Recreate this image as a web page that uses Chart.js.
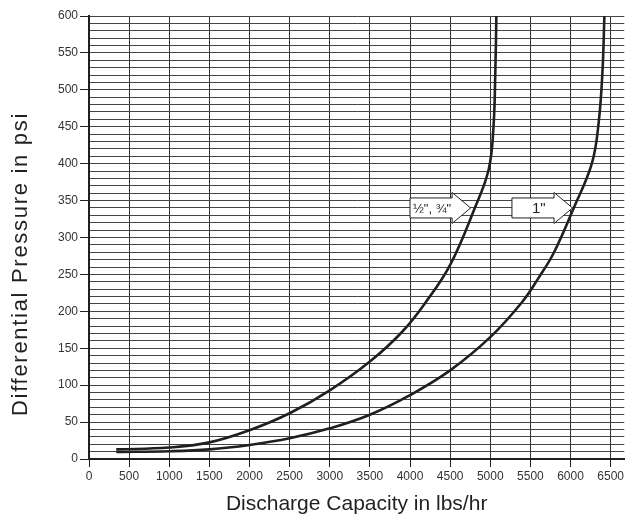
<!DOCTYPE html>
<html>
<head>
<meta charset="utf-8">
<script src="https://cdn.jsdelivr.net/npm/chart.js@4.4.0/dist/chart.umd.min.js"></script>
<style>
  body { margin: 0; background: #fff; }
  canvas { display: block; }
</style>
</head>
<body>
<canvas id="myCanvas" width="626" height="514"></canvas>
<script>
// capacity (lbs/hr) vs differential pressure (psi)
var smallX = [340, 1000, 1500, 2000, 2500, 3000, 3500, 3900, 4200, 4500, 4800, 4980, 5040, 5062, 5076];
var smallY = [13, 15.5, 22.5, 39, 62, 93, 132, 172, 213, 263, 338, 392, 450, 520, 600];
var oneX = [340, 1000, 1500, 2000, 2500, 3000, 3500, 4000, 4500, 5000, 5400, 5600, 5790, 6040, 6265, 6350, 6398, 6422];
var oneY = [9.5, 10.5, 13, 19, 28, 41.5, 60, 86.5, 120, 165, 213, 245, 279, 340, 400, 455, 525, 600];

var xTicks = [0, 500, 1000, 1500, 2000, 2500, 3000, 3500, 4000, 4500, 5000, 5500, 6000, 6500];

// arrow labels: text, box start x, arrow tip x, y (data units)
var arrowText = ['\u00BD", \u00BE"', '1"'];
var arrowFromX = [4000, 5270];
var arrowTipX = [4755, 6025];
var arrowAtY = [340, 340];

function pts(xs, ys) {
	var out = [];
	for (var i = 0; i < xs.length; i++) out.push({x: xs[i], y: ys[i]});
	return out;
}

var arrows = {
	id: 'arrows',
	afterDatasetsDraw: function(chart) {
		var ctx = chart.ctx, sx = chart.scales.x, sy = chart.scales.y;
		for (var i = 0; i < arrowText.length; i++) {
			var l = sx.getPixelForValue(arrowFromX[i]);
			var t = sx.getPixelForValue(arrowTipX[i]);
			var y = sy.getPixelForValue(arrowAtY[i]);
			var h = t - 18.5;
			ctx.save();
			ctx.beginPath();
			ctx.moveTo(l, y - 10);
			ctx.lineTo(h, y - 10);
			ctx.lineTo(h, y - 15.5);
			ctx.lineTo(t, y);
			ctx.lineTo(h, y + 15.5);
			ctx.lineTo(h, y + 10);
			ctx.lineTo(l, y + 10);
			ctx.closePath();
			ctx.fillStyle = '#fff';
			ctx.fill();
			ctx.strokeStyle = '#231f20';
			ctx.lineWidth = 1;
			ctx.stroke();
			ctx.fillStyle = '#231f20';
			ctx.textBaseline = 'middle';
			ctx.textAlign = 'left';
			if (i == 0) {
				ctx.font = '13px "Liberation Sans", Arial, sans-serif';
				ctx.fillText(arrowText[i], l + 3, y + 1);
			} else {
				ctx.font = '15px "Liberation Sans", Arial, sans-serif';
				ctx.fillText(arrowText[i], l + 20, y + 1);
			}
			ctx.restore();
		}
	}
};

var yTitle = {
	id: 'yTitle',
	afterDraw: function(chart) {
		var ctx = chart.ctx;
		ctx.save();
		ctx.translate(21, 264);
		ctx.rotate(-Math.PI / 2);
		ctx.font = '22px "Liberation Sans", Arial, sans-serif';
		ctx.letterSpacing = '1.7px';
		ctx.fillStyle = '#231f20';
		ctx.textAlign = 'center';
		ctx.textBaseline = 'middle';
		ctx.fillText('Differential Pressure in psi', 0, 0);
		ctx.restore();
	}
};

var lineStyle = {
	borderColor: '#231f20',
	borderWidth: 2.6,
	pointRadius: 0,
	showLine: true,
	fill: false,
	tension: 0.4
};

var ctx = document.getElementById('myCanvas');
var chart = new Chart(ctx, {
	type: 'scatter',
	data: {
		datasets: [
			Object.assign({label: '1/2", 3/4"', data: pts(smallX, smallY)}, lineStyle),
			Object.assign({label: '1"', data: pts(oneX, oneY)}, lineStyle)
		]
	},
	options: {
		responsive: false,
		animation: false,
		layout: {padding: {top: 16, right: 0, left: 0, bottom: 0}},
		plugins: {legend: {display: false}, tooltip: {enabled: false}},
		scales: {
			x: {
				type: 'linear',
				min: 0,
				max: 6670,
				afterFit: function(s) { s.height = 55; },
				afterBuildTicks: function(s) {
					s.ticks = xTicks.map(function(v) { return {value: v}; });
				},
				border: {color: '#231f20', width: 2},
				grid: {
					color: '#333',
					lineWidth: 1,
					tickLength: 8,
					tickColor: '#231f20'
				},
				ticks: {
					autoSkip: false,
					maxRotation: 0,
					padding: 2,
					color: '#333',
					font: {family: '"Liberation Sans", Arial, sans-serif', size: 12},
					callback: function(v) { return String(v); }
				},
				title: {
					display: true,
					text: 'Discharge Capacity in lbs/hr',
					color: '#231f20',
					padding: {top: 0, bottom: 0},
					font: {family: '"Liberation Sans", Arial, sans-serif', size: 21, lineHeight: 0.9}
				}
			},
			y: {
				type: 'linear',
				min: 0,
				max: 600,
				afterFit: function(s) { s.width = 89; },
				border: {color: '#231f20', width: 2},
				grid: {
					color: '#444',
					lineWidth: 1,
					tickLength: 9,
					tickColor: function(c) { return c.tick && c.tick.value % 50 === 0 ? '#231f20' : 'rgba(0,0,0,0)'; }
				},
				ticks: {
					stepSize: 10,
					autoSkip: false,
					padding: 2,
					color: '#333',
					font: {family: '"Liberation Sans", Arial, sans-serif', size: 12},
					callback: function(v) { return v % 50 === 0 ? String(v) : ''; }
				}
			}
		}
	},
	plugins: [arrows, yTitle]
});
</script>
</body>
</html>
